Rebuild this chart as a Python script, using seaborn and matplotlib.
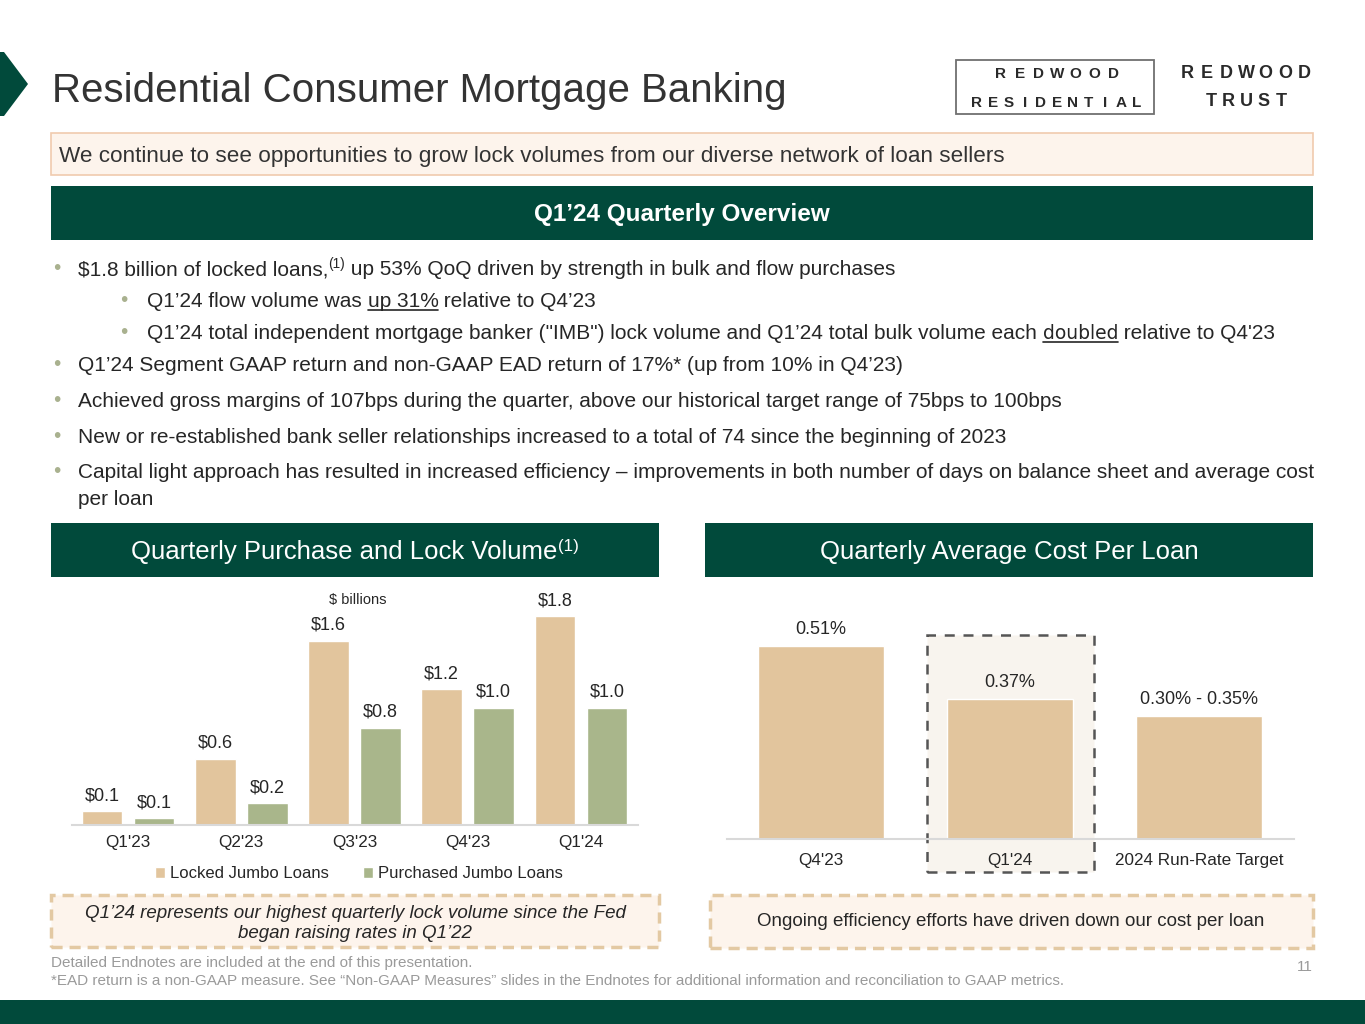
import matplotlib
matplotlib.use("Agg")
import matplotlib.pyplot as plt
from matplotlib.patches import Rectangle, Polygon
from matplotlib.lines import Line2D
import seaborn as sns
import pandas as pd

# ---------------- data ----------------
quarters = ["Q1'23", "Q2'23", "Q3'23", "Q4'23", "Q1'24"]
locked_jumbo = [0.12, 0.57, 1.59, 1.17, 1.80]
purchased_jumbo = [0.06, 0.19, 0.84, 1.01, 1.01]
series_names = ["Locked Jumbo Loans", "Purchased Jumbo Loans"]

cost_periods = ["Q4'23", "Q1'24", "2024 Run-Rate Target"]
cost_per_loan = [0.51, 0.37, 0.325]
cost_labels = ["0.51%", "0.37%", "0.30% - 0.35%"]

title_text = "Residential Consumer Mortgage Banking"
banner_text = "We continue to see opportunities to grow lock volumes from our diverse network of loan sellers"
overview_title = "Q1\u201924 Quarterly Overview"
left_header = "Quarterly Purchase and Lock Volume"
right_header = "Quarterly Average Cost Per Loan"
left_note = ["Q1\u201924 represents our highest quarterly lock volume since the Fed",
             "began raising rates in Q1\u201922"]
right_note = "Ongoing efficiency efforts have driven down our cost per loan"
footnotes = ["Detailed Endnotes are included at the end of this presentation.",
             "*EAD return is a non-GAAP measure. See \u201cNon-GAAP Measures\u201d slides in the Endnotes for additional information and reconciliation to GAAP metrics."]

# bullets: (level, baseline_px, [(text, style)])
bullets = [
    (0, 275, [("$1.8 billion of locked loans,", {}), ("(1)", {"sup": True}),
              (" up 53% QoQ driven by strength in bulk and flow purchases", {})]),
    (1, 307, [("Q1\u201924 flow volume was ", {}), ("up 31%", {"ul": True}),
              (" relative to Q4\u201923", {})]),
    (1, 339, [("Q1\u201924 total independent mortgage banker (\"IMB\") lock volume and Q1\u201924 total bulk volume each ", {}),
              ("doubled", {"ul": True, "family": "DejaVu Sans", "size": 13.5}),
              (" relative to Q4'23", {})]),
    (0, 371, [("Q1\u201924 Segment GAAP return and non-GAAP EAD return of 17%* (up from 10% in Q4\u201923)", {})]),
    (0, 407, [("Achieved gross margins of 107bps during the quarter, above our historical target range of 75bps to 100bps", {})]),
    (0, 443, [("New or re-established bank seller relationships increased to a total of 74 since the beginning of 2023", {})]),
    (0, 478, [("Capital light approach has resulted in increased efficiency \u2013 improvements in both number of days on balance sheet and average cost", {})]),
    (None, 505, [("per loan", {})]),
]

# ---------------- style ----------------
W, H = 1365, 1024
GREEN = "#014A3B"
TAN = "#E2C59D"
SAGE = "#A9B68B"
DARK = "#262626"
BULLET = "#A9B18F"

sns.set_theme(style="white")
plt.rcParams['font.family'] = ['Liberation Sans', 'DejaVu Sans']

fig = plt.figure(figsize=(13.65, 10.24), dpi=100)
fig.patch.set_facecolor("white")
renderer = fig.canvas.get_renderer()


def X(px):
    return px / W


def Y(py):
    return 1 - py / H


def rect(x0, y0, x1, y1, **kw):
    r = Rectangle((X(x0), Y(y1)), (x1 - x0) / W, (y1 - y0) / H,
                  transform=fig.transFigure, **kw)
    fig.add_artist(r)
    return r


def measure(s, **props):
    t1 = fig.text(0, 0, s + "|", **props)
    w1 = t1.get_window_extent(renderer).width
    t1.remove()
    t2 = fig.text(0, 0, "|", **props)
    w2 = t2.get_window_extent(renderer).width
    t2.remove()
    return w1 - w2


def run(x, base, parts, size=15, color=DARK, ha="left", **common):
    items = []
    for s, st in parts:
        props = dict(fontsize=st.get("size", size * (0.66 if st.get("sup") else 1)),
                     color=color, **common)
        if "family" in st:
            props["family"] = st["family"]
        w = measure(s, **props)
        items.append((s, st, props, w))
    total = sum(i[3] for i in items)
    if ha == "center":
        x = x - total / 2
    for s, st, props, w in items:
        rise = size * 0.45 if st.get("sup") else 0
        fig.text(X(x), Y(base - rise), s, ha="left", va="baseline", **props)
        if st.get("ul"):
            fig.add_artist(Line2D([X(x), X(x + w)], [Y(base + 3), Y(base + 3)],
                                  color=color, lw=1.2, transform=fig.transFigure))
        x += w
    return x


# ---------------- slide chrome ----------------
fig.add_artist(Polygon([(X(0), Y(52)), (X(4), Y(52)), (X(28), Y(84)), (X(4), Y(116)), (X(0), Y(116))],
                       closed=True, transform=fig.transFigure, facecolor=GREEN, edgecolor="none"))
fig.text(X(52), Y(102), title_text, fontsize=29, color="#333333", ha="left", va="baseline")

# logos
rect(956, 60, 1154, 114, facecolor="none", edgecolor="#707070", lw=1.3)
for word, cy, cx, step, fs in [("REDWOOD", 74, 1057, 18.7, 11), ("RESIDENTIAL", 103, 1057, 16.0, 11),
                               ("REDWOOD", 73, 1246, 19.5, 13), ("TRUST", 102, 1246, 17.5, 13)]:
    n = len(word)
    for i, ch in enumerate(word):
        fig.text(X(cx + (i - (n - 1) / 2) * step), Y(cy), ch, fontsize=fs, fontweight="bold",
                 color="#2A2A2A", ha="center", va="center")

# banner
rect(51, 133, 1313, 175, facecolor="#FDF4EC", edgecolor="#F0CBAE", lw=1.2)
fig.text(X(59), Y(162), banner_text, fontsize=16.2, color="#333333", ha="left", va="baseline")

# overview header
rect(51, 186, 1313, 240, facecolor=GREEN, edgecolor="none")
fig.text(X(682), Y(214), overview_title, fontsize=17.5, fontweight="bold", color="white",
         ha="center", va="center")

# bullets
for level, base, parts in bullets:
    if level == 0:
        bx, tx = 57, 78
    elif level == 1:
        bx, tx = 124, 147
    else:
        bx, tx = None, 78
    if bx is not None:
        fig.text(X(bx), Y(base - 1), "\u2022", fontsize=15, color=BULLET, ha="center", va="baseline")
    run(tx, base, parts)

# chart headers
rect(51, 523, 659, 577, facecolor=GREEN, edgecolor="none")
rect(705, 523, 1313, 577, facecolor=GREEN, edgecolor="none")
run(355, 559, [(left_header, {}), ("(1)", {"sup": True})], size=18.5, color="white", ha="center")
run(1009, 559, [(right_header, {})], size=18.5, color="white", ha="center")

# ---------------- left chart ----------------
ax1 = fig.add_axes([X(71.5), Y(825), 566 / W, 230 / H])
df1 = pd.DataFrame({
    "quarter": quarters * 2,
    "series": [series_names[0]] * len(quarters) + [series_names[1]] * len(quarters),
    "value": locked_jumbo + purchased_jumbo,
})
sns.barplot(data=df1, x="quarter", y="value", hue="series", palette=[TAN, SAGE],
            width=0.92, gap=0.22, saturation=1, errorbar=None, ax=ax1)
ax1.set_xlim(-0.5, len(quarters) - 0.5)
ax1.set_ylim(0, 230 / 116)
for cont, vals in zip(ax1.containers, [locked_jumbo, purchased_jumbo]):
    ax1.bar_label(cont, labels=[f"${v:.1f}" for v in vals], padding=5, fontsize=13, color=DARK)
h, l = ax1.get_legend_handles_labels()
ax1.legend(h, l, loc="center", bbox_to_anchor=(X(359), Y(874)), bbox_transform=fig.transFigure,
           ncol=2, frameon=False, handlelength=0.65, handleheight=0.65, handletextpad=0.3,
           columnspacing=2.0, fontsize=12, labelcolor=DARK)
fig.text(X(358), Y(600), "$ billions", fontsize=10.5, color=DARK, ha="center", va="center")

# ---------------- right chart ----------------
ax2 = fig.add_axes([X(726.5), Y(839), 567 / W, 239 / H])
df2 = pd.DataFrame({"period": cost_periods, "cost": cost_per_loan})
sns.barplot(data=df2, x="period", y="cost", color=TAN, width=0.667, saturation=1,
            errorbar=None, ax=ax2)
ax2.set_xlim(-0.5, len(cost_periods) - 0.5)
ax2.set_ylim(0, 239 / 378)
ax2.bar_label(ax2.containers[0], labels=cost_labels, padding=6, fontsize=13, color=DARK)
hl = Rectangle((X(927), Y(872)), 167 / W, 237 / H, transform=fig.transFigure, clip_on=False,
               facecolor="#F8F4EE", edgecolor="#555555", lw=1.8, linestyle=(0, (4, 3.5)), zorder=0.5)
ax2.add_patch(hl)

for ax, pad in [(ax1, 7), (ax2, 10)]:
    ax.set_facecolor("none")
    ax.set_xlabel("")
    ax.set_ylabel("")
    ax.set_yticks([])
    for s in ["top", "left", "right"]:
        ax.spines[s].set_visible(False)
    ax.spines["bottom"].set_color("#D9D9D9")
    ax.spines["bottom"].set_linewidth(1.5)
    ax.spines["bottom"].set_zorder(3)
    ax.tick_params(axis="x", length=0, pad=pad, labelsize=12.3, labelcolor=DARK)

# ---------------- notes ----------------
rect(51, 895, 659, 947, facecolor="#FDF4EC", edgecolor="#E3C9A3", lw=2.5, linestyle=(0, (3.2, 2)))
rect(710, 895, 1313, 948, facecolor="#FDF4EC", edgecolor="#E3C9A3", lw=2.5, linestyle=(0, (3.2, 2)))
fig.text(X(355), Y(913), left_note[0], fontsize=13.5, style="italic", color=DARK, ha="center", va="center")
fig.text(X(355), Y(933), left_note[1], fontsize=13.5, style="italic", color=DARK, ha="center", va="center")
fig.text(X(1011), Y(922), right_note, fontsize=13.5, color=DARK, ha="center", va="center")

fig.text(X(51), Y(963), footnotes[0], fontsize=11, color="#9A9A9A", ha="left", va="center")
fig.text(X(51), Y(981), footnotes[1], fontsize=11, color="#9A9A9A", ha="left", va="center")
fig.text(X(1313), Y(967), "11", fontsize=11, color="#9A9A9A", ha="right", va="center")

rect(0, 1000, 1365, 1024, facecolor=GREEN, edgecolor="none")

fig.savefig("out.png", dpi=100)
